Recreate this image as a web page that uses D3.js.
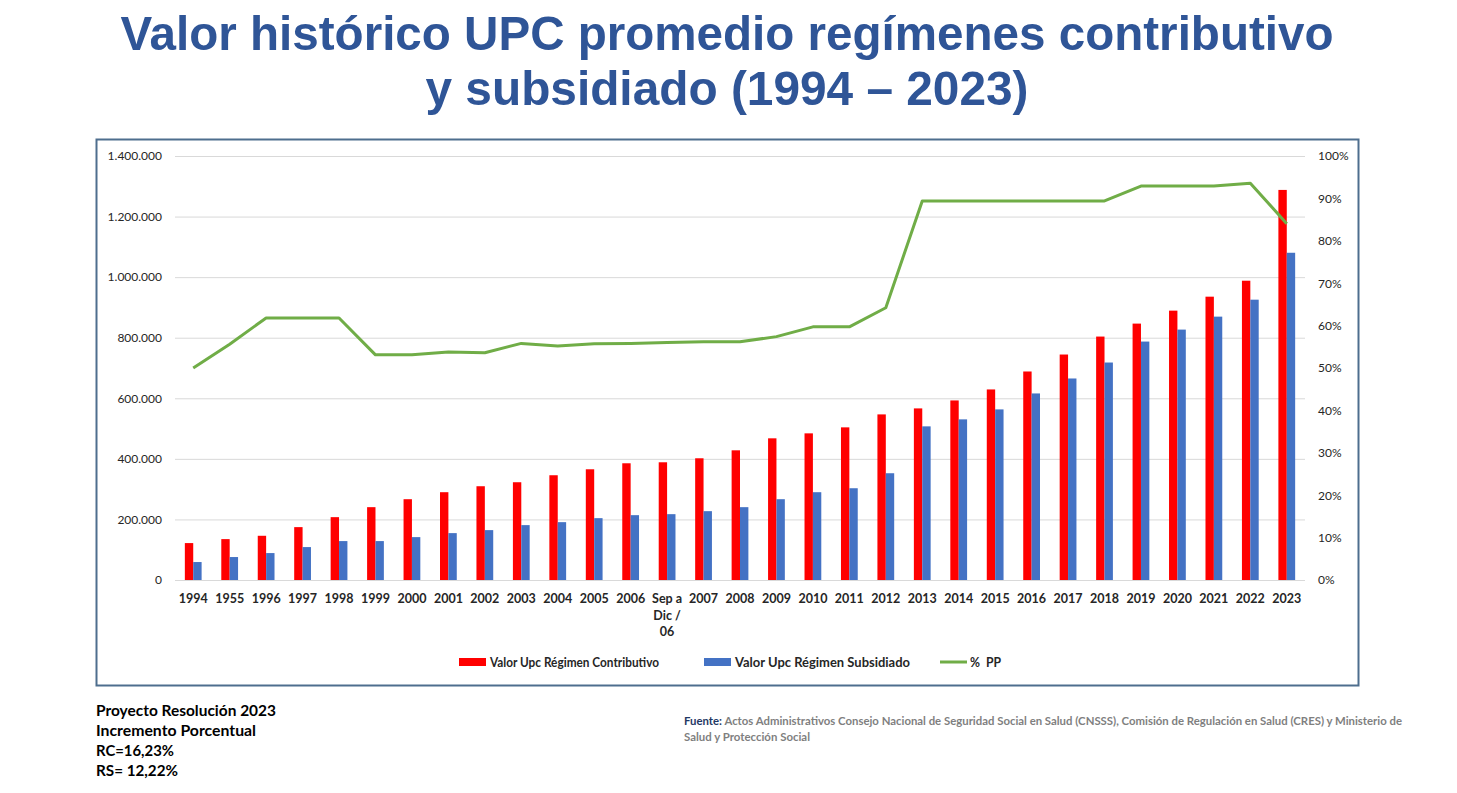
<!DOCTYPE html>
<html>
<head>
<meta charset="utf-8">
<script src="https://cdn.jsdelivr.net/npm/d3@7/dist/d3.min.js"></script>
<style>
  html, body { margin: 0; padding: 0; background: #ffffff; }
  svg { display: block; }
</style>
</head>
<body>
<svg id="chart" width="1457" height="793"></svg>
<script>
// ---------- DATA ----------
const categories = ["1994","1955","1996","1997","1998","1999","2000","2001","2002","2003","2004","2005","2006","Sep a|Dic /|06","2007","2008","2009","2010","2011","2012","2013","2014","2015","2016","2017","2018","2019","2020","2021","2022","2023"];
const contributivo = [121900,135000,146000,174600,207500,240500,266800,289900,309600,322800,345900,365600,385400,388700,401900,428200,467800,484200,504000,546800,566600,592900,629200,688500,744500,803800,846600,889400,935500,988200,1288000];
const subsidiado = [59300,75800,88900,108700,128500,128500,141600,154800,164700,181200,191000,204200,214100,217400,227300,240500,266800,289900,303000,352500,507300,530400,563300,616000,665400,718100,787300,826800,869600,925600,1080500];
const pctPP = [50.0,55.6,61.8,61.8,61.8,53.1,53.1,53.8,53.6,55.8,55.2,55.7,55.8,56.0,56.2,56.2,57.4,59.7,59.7,64.2,89.4,89.4,89.4,89.4,89.4,89.4,92.9,92.9,92.9,93.6,84.0];
const leftTicks = [0,200000,400000,600000,800000,1000000,1200000,1400000];
const rightTicks = [0,10,20,30,40,50,60,70,80,90,100];
const seriesNames = ["Valor Upc Régimen Contributivo","Valor Upc Régimen Subsidiado","%  PP"];
const titleLines = ["Valor histórico UPC promedio regímenes contributivo","y subsidiado (1994 – 2023)"];
const footerLeft = ["Proyecto Resolución 2023","Incremento Porcentual","RC=16,23%","RS= 12,22%"];
const sourceLabel = "Fuente:";
const sourceLines = [" Actos Administrativos Consejo Nacional de Seguridad Social en Salud (CNSSS), Comisión de Regulación en Salud (CRES) y Ministerio de","Salud y Protección Social"];

// ---------- STYLE ----------
const colRed = "#FF0000", colBlue = "#4472C4", colGreen = "#70AD47";
const font = "Lato, 'Open Sans', sans-serif";
const svg = d3.select("#chart");

// Title
const titleG = svg.append("g");
const titleSpecs = [{y: 50, len: 1213}, {y: 105, len: 603}];
titleLines.forEach((t, i) => {
  titleG.append("text")
    .attr("x", 727).attr("y", titleSpecs[i].y)
    .attr("text-anchor", "middle")
    .attr("font-family", "'Liberation Sans', Arial, sans-serif")
    .attr("font-weight", 700)
    .attr("font-size", 49)
    .attr("fill", "#2F5597")
    .attr("textLength", titleSpecs[i].len)
    .attr("lengthAdjust", "spacingAndGlyphs")
    .text(t);
});

// Chart frame
svg.append("rect")
  .attr("x", 96.5).attr("y", 139.5).attr("width", 1262).attr("height", 546)
  .attr("fill", "#fff").attr("stroke", "#4E6E8E").attr("stroke-width", 2);

// Scales
const plot = {left: 175, right: 1305, top: 156, bottom: 580};
const x = d3.scaleBand().domain(categories).range([plot.left, plot.right]).padding(0);
const groupW = x.bandwidth() * 0.46;
const x1 = d3.scaleBand().domain(["rc","rs"]).range([(x.bandwidth()-groupW)/2, (x.bandwidth()+groupW)/2]).padding(0);
const y = d3.scaleLinear().domain([0, 1400000]).range([plot.bottom, plot.top]);
const y2 = d3.scaleLinear().domain([0, 100]).range([plot.bottom, plot.top]);

// Gridlines
svg.append("g").selectAll("line").data(leftTicks).join("line")
  .attr("x1", plot.left).attr("x2", plot.right)
  .attr("y1", d => y(d) + 0.5).attr("y2", d => y(d) + 0.5)
  .attr("stroke", "#D9D9D9").attr("stroke-width", 1);

// Left axis
const fmtLeft = d => d3.format(",")(d).replace(/,/g, ".");
const leftAxis = d3.axisLeft(y).tickValues(leftTicks).tickFormat(fmtLeft).tickSize(0).tickPadding(13);
const gL = svg.append("g").attr("transform", `translate(${plot.left},0)`).call(leftAxis);
gL.select(".domain").remove();
gL.selectAll("text").attr("font-family", font).attr("font-size", 12).attr("fill", "#262626");

// Right axis
const rightAxis = d3.axisRight(y2).tickValues(rightTicks).tickFormat(d => d + "%").tickSize(0).tickPadding(13);
const gR = svg.append("g").attr("transform", `translate(${plot.right},0)`).call(rightAxis);
gR.select(".domain").remove();
gR.selectAll("text").attr("font-family", font).attr("font-size", 12).attr("fill", "#262626");

// Bars
const barsG = svg.append("g");
categories.forEach((c, i) => {
  barsG.append("rect")
    .attr("x", x(c) + x1("rc")).attr("width", x1.bandwidth())
    .attr("y", y(contributivo[i])).attr("height", y(0) - y(contributivo[i]))
    .attr("fill", colRed);
  barsG.append("rect")
    .attr("x", x(c) + x1("rs")).attr("width", x1.bandwidth())
    .attr("y", y(subsidiado[i])).attr("height", y(0) - y(subsidiado[i]))
    .attr("fill", colBlue);
});

// Line
const line = d3.line()
  .x((d, i) => x(categories[i]) + x.bandwidth() / 2)
  .y(d => y2(d));
svg.append("path").datum(pctPP)
  .attr("d", line).attr("fill", "none")
  .attr("stroke", colGreen).attr("stroke-width", 3).attr("stroke-linejoin", "round");

// X axis labels
const xAxis = d3.axisBottom(x).tickSize(0).tickPadding(0).tickFormat(() => "");
const gX = svg.append("g").attr("transform", `translate(0,${plot.bottom})`).call(xAxis);
gX.select(".domain").remove();
gX.selectAll(".tick").each(function(d) {
  const parts = d.split("|");
  const t = d3.select(this).select("text")
    .attr("font-family", font).attr("font-size", 12.5).attr("font-weight", 700)
    .attr("fill", "#262626").attr("text-anchor", "middle").attr("dy", null).attr("y", 0);
  parts.forEach((p, k) => {
    t.append("tspan").attr("x", 0).attr("y", 23 + k * 16.5).text(p);
  });
});

// Legend
const legendItems = [
  {name: seriesNames[0], type: "rect", color: colRed, sx: 459, tx: 490, len: 169},
  {name: seriesNames[1], type: "rect", color: colBlue, sx: 704, tx: 735, len: 175},
  {name: seriesNames[2], type: "line", color: colGreen, sx: 940, tx: 970, len: 31}
];
const lg = svg.append("g");
legendItems.forEach(it => {
  if (it.type === "rect") {
    lg.append("rect").attr("x", it.sx).attr("y", 658).attr("width", 27).attr("height", 8).attr("fill", it.color);
  } else {
    lg.append("line").attr("x1", it.sx).attr("x2", it.sx + 27).attr("y1", 662).attr("y2", 662)
      .attr("stroke", it.color).attr("stroke-width", 3);
  }
  lg.append("text").attr("x", it.tx).attr("y", 667)
    .attr("font-family", font).attr("font-size", 12.5).attr("font-weight", 700)
    .attr("fill", "#262626")
    .attr("textLength", it.len).attr("lengthAdjust", "spacingAndGlyphs")
    .style("white-space", "pre")
    .text(it.name);
});

// Footer left
const flLens = [180, 160, 78, 82];
footerLeft.forEach((t, i) => {
  svg.append("text").attr("x", 96).attr("y", 716 + i * 20)
    .attr("font-family", font).attr("font-size", 14.5).attr("font-weight", 700)
    .attr("fill", "#000")
    .attr("textLength", flLens[i]).attr("lengthAdjust", "spacingAndGlyphs")
    .text(t);
});

// Source
const src1 = svg.append("text").attr("x", 684).attr("y", 725)
  .attr("font-family", font).attr("font-size", 10.5).attr("font-weight", 700)
  .attr("textLength", 718).attr("lengthAdjust", "spacingAndGlyphs")
  .style("white-space", "pre");
src1.append("tspan").attr("fill", "#1F3864").text(sourceLabel);
src1.append("tspan").attr("fill", "#7F7F7F").text(sourceLines[0]);
svg.append("text").attr("x", 684).attr("y", 741)
  .attr("font-family", font).attr("font-size", 10.5).attr("font-weight", 700)
  .attr("fill", "#7F7F7F")
  .attr("textLength", 126).attr("lengthAdjust", "spacingAndGlyphs")
  .text(sourceLines[1]);
</script>
</body>
</html>
